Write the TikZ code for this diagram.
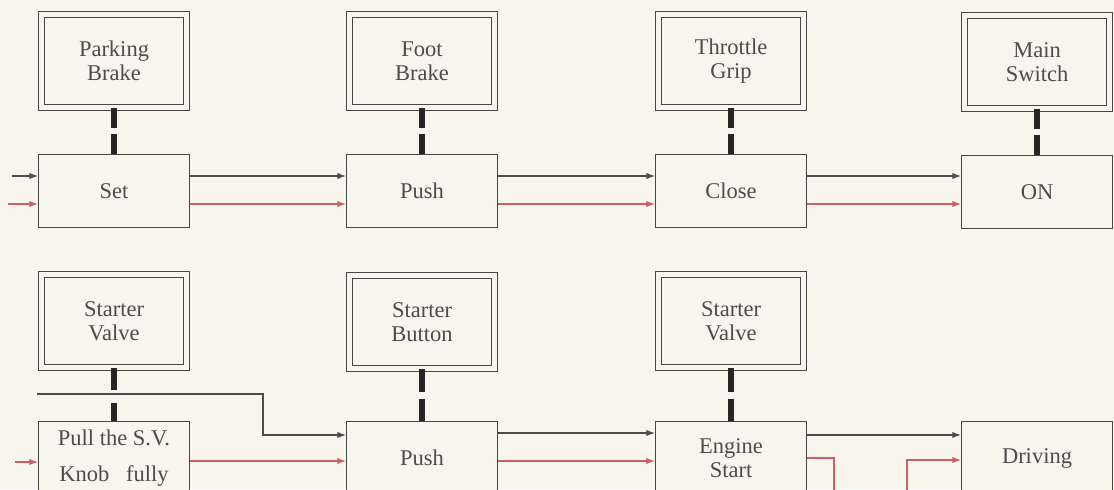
\documentclass[tikz,border=0pt]{standalone}
\usepackage{fontspec}
\setmainfont{Liberation Serif}
\usetikzlibrary{arrows.meta, positioning, calc}
\definecolor{paper}{RGB}{248,245,237}
\definecolor{inkgray}{RGB}{70,70,70}
\definecolor{redline}{RGB}{205,95,105}

\begin{document}
\begin{tikzpicture}[
    x=0.025cm, y=0.025cm,
    every node/.style={font=\fontsize{16}{17}\selectfont, text=black!70, align=center, inner sep=1pt},
    ctrl/.style={draw=inkgray, line width=0.9pt, double=paper, double distance=0.13cm, minimum width=3.63cm, minimum height=2.33cm},
    act/.style={draw=inkgray, line width=1pt, fill=paper, minimum width=3.76cm, minimum height=1.82cm},
    link/.style={line width=0.15cm, draw=black!85, dash pattern=on 0.5cm off 0.15cm},
    blk/.style={draw=black!70, line width=0.9pt, -{Latex[length=2.2mm, width=1.6mm]}},
    redarrow/.style={draw=redline, line width=0.9pt, -{Latex[length=2.2mm, width=1.6mm]}}
]
\path[use as bounding box, fill=paper] (0,0) rectangle (1114,489);
\clip (0,0) rectangle (1114,489);

% upper row
\node[ctrl] (pbrake) at (114, 428) {Parking\\Brake};
\node[act] (set) at (114, 298) {Set};
\node[ctrl] (fbrake) at (422, 428) {Foot\\Brake};
\node[act] (push) at (422, 298) {Push};
\node[ctrl] (tgrip) at (731, 428) {Throttle\\Grip};
\node[act] (close) at (731, 298) {Close};
\node[ctrl] (mswitch) at (1037, 427) {Main\\Switch};
\node[act] (on) at (1037, 297) {ON};

\draw[link] (pbrake.south) -- (set.north); \draw[link] (fbrake.south) -- (push.north);
\draw[link] (tgrip.south) -- (close.north); \draw[link] (mswitch.south) -- (on.north);

\coordinate (inblk) at (12, 313); \coordinate (inred) at (8, 285);
\draw[blk] (inblk) -- (inblk -| set.west); \draw[redarrow] (inred) -- (inred -| set.west);
\draw[blk] ($(set.east)+(0,15)$) -- ($(push.west)+(0,15)$);
\draw[redarrow] ($(set.east)+(0,-13)$) -- ($(push.west)+(0,-13)$);
\draw[blk] ($(push.east)+(0,15)$) -- ($(close.west)+(0,15)$);
\draw[redarrow] ($(push.east)+(0,-13)$) -- ($(close.west)+(0,-13)$);
\draw[blk] ($(close.east)+(0,15)$) -- ($(on.west)+(0,16)$);
\draw[redarrow] ($(close.east)+(0,-13)$) -- ($(on.west)+(0,-12)$);

% lower row
\node[ctrl] (svalve) at (114, 168) {Starter\\Valve};
\node[act] (pull) at (114, 31) {Pull the S.V.\\[9pt]Knob\ \ \ fully};
\node[ctrl] (sbutton) at (422, 167) {Starter\\Button};
\node[act] (spush) at (422, 31) {Push};
\node[ctrl] (svalve2) at (731, 168) {Starter\\Valve};
\node[act] (estart) at (731, 31) {Engine\\Start};
\node[act] (driving) at (1037, 31) {Driving};

\draw[link, dash pattern=on 0.55cm off 0.33cm] (svalve.south) -- (pull.north);
\draw[link, dash pattern=on 0.57cm off 0.18cm] (sbutton.south) -- (spush.north);
\draw[link, dash pattern=on 0.6cm off 0.16cm] (svalve2.south) -- (estart.north);

\coordinate (feed) at (37, 95); \coordinate (bend) at (263, 95);
\draw[blk] (feed) -- (bend) |- ($(spush.west)+(0,23)$);
\draw[blk] ($(spush.east)+(0,25)$) -- ($(estart.west)+(0,25)$);
\draw[blk] ($(estart.east)+(0,23)$) -- ($(driving.west)+(0,23)$);

\coordinate (inred2) at (15, 27);
\draw[redarrow] (inred2) -- (inred2 -| pull.west);
\draw[redarrow] ($(pull.east)+(0,-3)$) -- ($(spush.west)+(0,-3)$);
\draw[redarrow] ($(spush.east)+(0,-3)$) -- ($(estart.west)+(0,-3)$);
\coordinate (down) at (834, -10); \coordinate (up) at (907, -10);
\draw[redline, line width=0.9pt] (estart.east) -| (down);
\draw[redarrow] (up) |- ($(driving.west)+(0,-2)$);
\end{tikzpicture}
\end{document}
